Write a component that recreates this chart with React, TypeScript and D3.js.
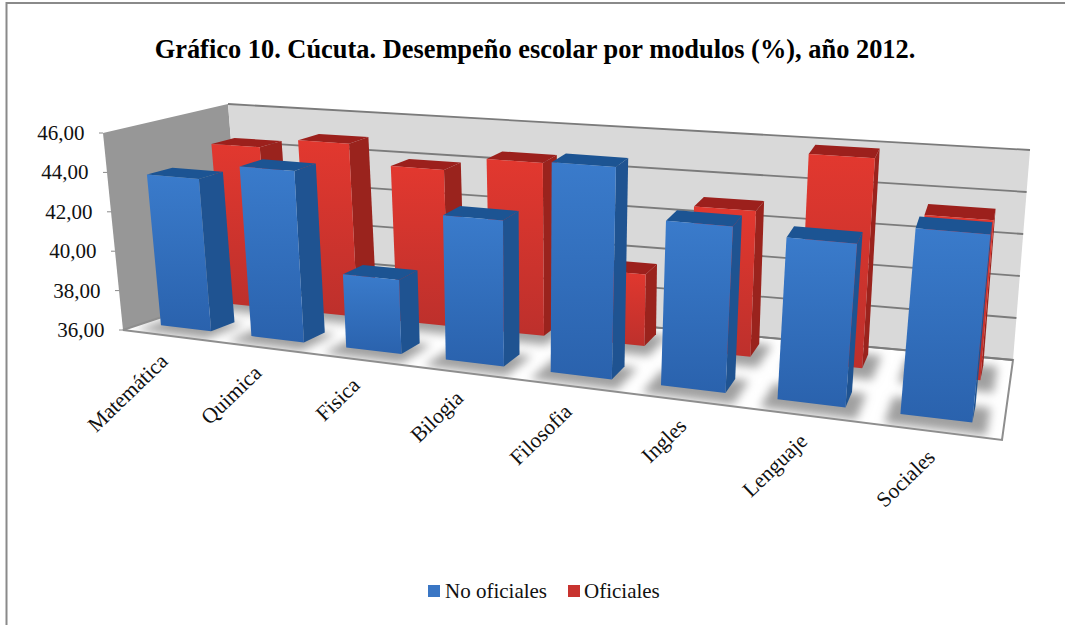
import React from "react";
import * as d3 from "d3";

// Chart content
const title = "Gráfico 10. Cúcuta. Desempeño escolar por modulos (%), año 2012.";
const categories = ["Matemática", "Quimica", "Fisica", "Bilogia", "Filosofia", "Ingles", "Lenguaje", "Sociales"];
const noOficiales = [43.7, 44.5, 39.6, 42.95, 45.9, 43.6, 43.3, 44.2];
const oficiales = [44.4, 44.9, 43.9, 44.6, 39.5, 43.0, 45.9, 43.4];
const valueTicks = [36, 38, 40, 42, 44, 46];
const seriesNames = ["No oficiales", "Oficiales"];

type Pt = [number, number];

// Screen corners of the plot box: b = floor, t = top tick plane; F/B = front/back, L/R = left/right.
const box = {
  FLb: [123, 330] as Pt,
  FRb: [1002, 440] as Pt,
  BLb: [243, 290] as Pt,
  BRb: [1013, 360] as Pt,
  FLt: [103, 133] as Pt,
  FRt: [1027, 205] as Pt,
  BLt: [228, 104] as Pt,
  BRt: [1030, 150] as Pt,
};

const yScale = d3.scaleLinear().domain([36, 46]).range([0, 1]);
const slotScale = d3.scaleLinear().domain([0, categories.length]).range([0, 1]);

// Categories nearer the viewer (right side) take up more width.
const perspective = 0.23;
const across = (cat: number) => {
  const s = slotScale(cat);
  return s / (1 + perspective * (1 - s));
};

const mix = (a: Pt, b: Pt, t: number): Pt => [a[0] + (b[0] - a[0]) * t, a[1] + (b[1] - a[1]) * t];

// Category position, value and depth (0 = front, 1 = back) to screen pixels.
function project(cat: number, value: number, depth: number): Pt {
  const u = across(cat);
  const floor = mix(mix(box.FLb, box.FRb, u), mix(box.BLb, box.BRb, u), depth);
  const ceil = mix(mix(box.FLt, box.FRt, u), mix(box.BLt, box.BRt, u), depth);
  return mix(floor, ceil, yScale(value));
}

const poly = (pts: Pt[]) => pts.map((p) => p.map((n) => n.toFixed(1)).join(",")).join(" ");

const barStart = 0.2;
const barEnd = 0.76;
const depthBands: Record<string, [number, number]> = {
  blue: [0.17, 0.38],
  red: [0.71, 0.9],
};

const palette = {
  blue: { top: "#1c5493", side: "#1f5391", id: "gradBlue" },
  red: { top: "#9c201c", side: "#9a231d", id: "gradRed" },
};

function Bar({ index, value, kind }: { index: number; value: number; kind: "blue" | "red" }) {
  const [z0, z1] = depthBands[kind];
  const x0 = index + barStart;
  const x1 = index + barEnd;
  const colors = palette[kind];
  const front: Pt[] = [project(x0, value, z0), project(x1, value, z0), project(x1, 36, z0), project(x0, 36, z0)];
  const side: Pt[] = [project(x1, value, z0), project(x1, value, z1), project(x1, 36, z1), project(x1, 36, z0)];
  const top: Pt[] = [project(x0, value, z0), project(x1, value, z0), project(x1, value, z1), project(x0, value, z1)];
  return (
    <g>
      <polygon points={poly(side)} fill={colors.side} />
      <polygon points={poly(top)} fill={colors.top} />
      <polygon points={poly(front)} fill={`url(#${colors.id})`} />
    </g>
  );
}

function FloorShadow({ index, kind }: { index: number; kind: "blue" | "red" }) {
  const [z0, z1] = depthBands[kind];
  const x0 = index + barStart - 0.1;
  const x1 = index + barEnd + 0.12;
  const pts: Pt[] = [project(x0, 36, z0 - 0.14), project(x1, 36, z0 - 0.14), project(x1, 36, z1), project(x0, 36, z1)];
  return <polygon points={poly(pts)} fill="#a0a0a0" />;
}

export default function App() {
  const floor: Pt[] = [project(0, 36, 0), project(8, 36, 0), project(8, 36, 1), project(0, 36, 1)];
  const backWall: Pt[] = [project(0, 36, 1), project(8, 36, 1), project(8, 46, 1), project(0, 46, 1)];
  const sideWall: Pt[] = [project(0, 36, 0), project(0, 36, 1), project(0, 46, 1), project(0, 46, 0)];

  return (
    <svg
      width={1065}
      height={625}
      viewBox="0 0 1065 625"
      style={{ position: "absolute", left: 0, top: 0, background: "#fff" }}
      fontFamily="'Liberation Serif', serif"
    >
      <defs>
        <linearGradient id="gradBlue" x1="0" y1="0" x2="0" y2="1">
          <stop offset="0" stopColor="#3a7bcb" />
          <stop offset="1" stopColor="#2a62ad" />
        </linearGradient>
        <linearGradient id="gradRed" x1="0" y1="0" x2="0" y2="1">
          <stop offset="0" stopColor="#e2382f" />
          <stop offset="1" stopColor="#bd302c" />
        </linearGradient>
        <filter id="soft" x="-50%" y="-50%" width="200%" height="200%">
          <feGaussianBlur stdDeviation="5" />
        </filter>
        <clipPath id="floorClip">
          <polygon points={poly(floor)} />
        </clipPath>
      </defs>

      {/* Chart frame: only the left and top edges fall inside the canvas */}
      <path d="M6.5,625 V3 H1065" fill="none" stroke="#8a8a8a" strokeWidth={2} />

      <text x={535} y={58} textAnchor="middle" fontSize={26.4} fontWeight="bold" fill="#000">
        {title}
      </text>

      {/* Walls and floor */}
      <polygon points={poly(sideWall)} fill="#979797" />
      <polygon points={poly(backWall)} fill="#d9d9d9" />
      <polygon points={poly(floor)} fill="#ffffff" />
      <g clipPath="url(#floorClip)">
        <g filter="url(#soft)">
          {oficiales.map((_, i) => <FloorShadow key={i} index={i} kind="red" />)}
          {noOficiales.map((_, i) => <FloorShadow key={i} index={i} kind="blue" />)}
        </g>
      </g>
      <polygon points={poly(floor)} fill="none" stroke="#8e8e8e" strokeWidth={2} />

      {/* Gridlines along the back wall */}
      {valueTicks.map((t) => {
        const a = project(0, t, 1);
        const b = project(8, t, 1);
        return <line key={t} x1={a[0]} y1={a[1]} x2={b[0]} y2={b[1]} stroke="#7b7b7b" strokeWidth={1.8} />;
      })}

      {/* Value ticks and labels at the front of the side wall */}
      {valueTicks.map((t) => {
        const [x, y] = project(0, t, 0);
        return (
          <g key={t}>
            <line x1={x - 4} y1={y} x2={x} y2={y} stroke="#8a8a8a" />
            <text x={x - 18.5} y={y + 7} textAnchor="end" fontSize={21} fill="#111">
              {t.toFixed(2).replace(".", ",")}
            </text>
          </g>
        );
      })}

      {/* Rear series first, then the front one, left to right */}
      {oficiales.map((v, i) => <Bar key={i} index={i} value={v} kind="red" />)}
      {noOficiales.map((v, i) => <Bar key={i} index={i} value={v} kind="blue" />)}

      {categories.map((c, i) => {
        const [x, y] = project(i + 0.5, 36, 0);
        return (
          <text
            key={c}
            transform={`translate(${x + 1},${y + 27}) rotate(-44)`}
            textAnchor="end"
            fontSize={21.5}
            fill="#111"
          >
            {c}
          </text>
        );
      })}

      {/* Legend */}
      <rect x={428} y={585} width={12} height={12} fill="#3a76c4" />
      <text x={445} y={598} fontSize={21} fill="#111">{seriesNames[0]}</text>
      <rect x={568} y={585} width={12} height={12} fill="#c8332f" />
      <text x={584} y={598} fontSize={21} fill="#111">{seriesNames[1]}</text>
    </svg>
  );
}
